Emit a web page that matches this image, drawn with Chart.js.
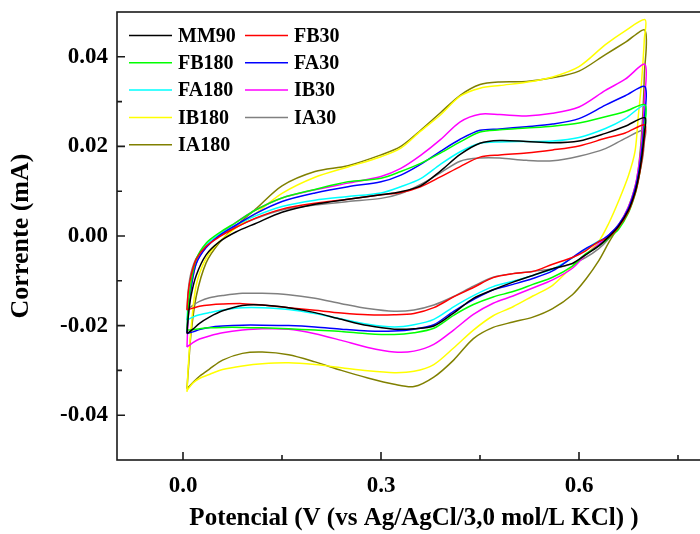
<!doctype html>
<html lang="pt">
<head>
<meta charset="UTF-8" />
<title>Voltametria cíclica</title>
<script src="https://cdn.jsdelivr.net/npm/chart.js"></script>
<style>
  html, body { margin: 0; padding: 0; background: #fff; overflow: hidden; }
  #wrap { width: 720px; height: 534px; }
</style>
</head>
<body>
<div id="wrap"><canvas id="cv"></canvas></div>
<script>
// potential grid for the forward (anodic) and reverse (cathodic) sweeps
const xUp = [0.006, 0.008, 0.012, 0.02, 0.035, 0.055, 0.08, 0.11, 0.15, 0.2, 0.25, 0.3,
             0.33, 0.36, 0.39, 0.42, 0.45, 0.48, 0.52, 0.56, 0.6, 0.64, 0.67, 0.7]
const xDown = [0.699, 0.697, 0.694, 0.69, 0.685, 0.675, 0.66, 0.645, 0.63, 0.61, 0.59, 0.56,
               0.53, 0.5, 0.47, 0.44, 0.41, 0.38, 0.35, 0.32, 0.28, 0.24, 0.2, 0.16, 0.12,
               0.09, 0.06, 0.04, 0.025, 0.015, 0.006]

const upMM90 = [-0.0218, -0.018, -0.0135, -0.0088, -0.0042, -0.0013, 0.0009, 0.0028, 0.0053, 0.0071, 0.0082, 0.0092,
                0.0099, 0.0112, 0.0145, 0.0182, 0.0207, 0.0213, 0.0211, 0.0208, 0.0212, 0.0229, 0.0245, 0.0264]
const dnMM90 = [0.023, 0.02, 0.0165, 0.013, 0.0098, 0.0058, 0.0022, -0.0002, -0.0022, -0.0042, -0.0061, -0.0073,
                -0.0088, -0.0103, -0.012, -0.0139, -0.0172, -0.0201, -0.0207, -0.0208, -0.02, -0.0186, -0.0171, -0.016, -0.0154,
                -0.0155, -0.0167, -0.0181, -0.0195, -0.0208, -0.0218]

const upFB30 = [-0.0165, -0.0125, -0.009, -0.0052, -0.0023, -0.0002, 0.0019, 0.004, 0.006, 0.0073, 0.0082, 0.0092,
                0.0097, 0.011, 0.0132, 0.0155, 0.0176, 0.0181, 0.0185, 0.0192, 0.0201, 0.0218, 0.023, 0.0248]
const dnFB30 = [0.022, 0.019, 0.0158, 0.0125, 0.0095, 0.0055, 0.002, -0.0003, -0.0012, -0.0033, -0.0048, -0.0063,
                -0.0079, -0.0084, -0.0093, -0.0115, -0.0136, -0.016, -0.0173, -0.0176, -0.0176, -0.0172, -0.0166, -0.016, -0.0154,
                -0.0151, -0.0152, -0.0154, -0.0157, -0.0161, -0.0165]

const upFB180 = [-0.021, -0.016, -0.0108, -0.0052, -0.0016, 0.0007, 0.003, 0.0058, 0.0085, 0.0104, 0.0121, 0.0129,
                 0.0144, 0.0162, 0.0185, 0.021, 0.0232, 0.0237, 0.0241, 0.0245, 0.0252, 0.0266, 0.0278, 0.0293]
const dnFB180 = [0.024, 0.02, 0.016, 0.0125, 0.0093, 0.0052, 0.0015, -0.0005, -0.0022, -0.004, -0.0067, -0.0092,
                 -0.0108, -0.0124, -0.0136, -0.0153, -0.0177, -0.0206, -0.0216, -0.022, -0.0218, -0.0213, -0.021, -0.0207, -0.0205,
                 -0.0204, -0.0204, -0.0205, -0.0207, -0.0209, -0.021]

const upFA30 = [-0.0216, -0.0165, -0.0118, -0.0062, -0.0026, 0.0001, 0.0024, 0.005, 0.0077, 0.0096, 0.011, 0.0121,
                0.0136, 0.016, 0.0189, 0.0216, 0.0236, 0.0239, 0.0244, 0.025, 0.0262, 0.0292, 0.0313, 0.0333]
const dnFA30 = [0.026, 0.022, 0.0178, 0.0138, 0.0105, 0.0062, 0.0025, 0.0002, -0.0013, -0.0028, -0.0048, -0.0078,
                -0.0095, -0.0108, -0.012, -0.0142, -0.0168, -0.0198, -0.0208, -0.0212, -0.0212, -0.0208, -0.0203, -0.02, -0.0199,
                -0.0199, -0.0201, -0.0204, -0.0209, -0.0214, -0.0218]

const upFA180 = [-0.0188, -0.0145, -0.0105, -0.0055, -0.002, 0.0003, 0.0024, 0.0045, 0.0066, 0.008, 0.0088, 0.0096,
                 0.011, 0.0128, 0.016, 0.0188, 0.0207, 0.021, 0.0211, 0.0212, 0.022, 0.024, 0.0262, 0.0292]
const dnFA180 = [0.024, 0.021, 0.017, 0.0135, 0.01, 0.0058, 0.0022, -0.0002, -0.0011, -0.003, -0.0049, -0.0074,
                 -0.0088, -0.0101, -0.0113, -0.0133, -0.0158, -0.0186, -0.0198, -0.0203, -0.0197, -0.0185, -0.0173, -0.0164, -0.016,
                 -0.016, -0.0165, -0.0171, -0.0176, -0.0181, -0.0188]

const upIB30 = [-0.0248, -0.018, -0.012, -0.006, -0.0025, 0.0002, 0.003, 0.0058, 0.0085, 0.0103, 0.0118, 0.0133,
                0.0151, 0.018, 0.0215, 0.0255, 0.0272, 0.0271, 0.0268, 0.0274, 0.0288, 0.0325, 0.035, 0.0383]
const dnIB30 = [0.03, 0.025, 0.0195, 0.015, 0.011, 0.0065, 0.0025, 0.0002, -0.0018, -0.0042, -0.0072, -0.0098,
                -0.0116, -0.0134, -0.015, -0.0175, -0.021, -0.0242, -0.0257, -0.0259, -0.0249, -0.0233, -0.0218, -0.0208, -0.0207,
                -0.021, -0.0216, -0.0223, -0.023, -0.0238, -0.0248]

const upIB180 = [-0.0348, -0.029, -0.021, -0.011, -0.005, -0.0013, 0.0018, 0.005, 0.0095, 0.0131, 0.0154, 0.0177,
                 0.0196, 0.0234, 0.027, 0.0312, 0.033, 0.0336, 0.0343, 0.0355, 0.0378, 0.0427, 0.0458, 0.0483]
const dnIB180 = [0.044, 0.039, 0.033, 0.027, 0.019, 0.0135, 0.0078, 0.0028, -0.0012, -0.0042, -0.0068, -0.011,
                 -0.0134, -0.0158, -0.0178, -0.021, -0.025, -0.0287, -0.0302, -0.0305, -0.0301, -0.0294, -0.0287, -0.0283, -0.0285,
                 -0.029, -0.0298, -0.0309, -0.0318, -0.0328, -0.0345]

const upIA30 = [-0.0166, -0.012, -0.0083, -0.005, -0.0022, 0.0, 0.002, 0.0039, 0.0058, 0.0069, 0.0077, 0.0084,
                0.0095, 0.0115, 0.0141, 0.0167, 0.0174, 0.0174, 0.0169, 0.0168, 0.0178, 0.0195, 0.0218, 0.0237]
const dnIA30 = [0.021, 0.018, 0.0155, 0.0128, 0.0098, 0.0058, 0.0025, -0.0006, -0.0028, -0.0048, -0.0062, -0.0073,
                -0.0079, -0.0084, -0.0092, -0.0112, -0.0135, -0.0154, -0.0165, -0.0168, -0.0162, -0.0151, -0.0139, -0.0131, -0.0128,
                -0.0128, -0.0133, -0.0138, -0.0146, -0.0155, -0.0166]

const upIA180 = [-0.0341, -0.03, -0.022, -0.0135, -0.006, -0.0015, 0.0022, 0.006, 0.0112, 0.0144, 0.0157, 0.0181,
                 0.02, 0.0236, 0.0275, 0.0314, 0.0338, 0.0344, 0.0345, 0.0353, 0.0368, 0.0405, 0.0432, 0.0459]
const dnIA180 = [0.036, 0.028, 0.021, 0.015, 0.011, 0.0065, 0.0022, -0.0015, -0.0055, -0.0097, -0.0131, -0.0162,
                 -0.0181, -0.0192, -0.0204, -0.0229, -0.0277, -0.0315, -0.0336, -0.0331, -0.0317, -0.03, -0.0281, -0.0265, -0.0259,
                 -0.0262, -0.0277, -0.0297, -0.0313, -0.0327, -0.0341]

const seriesNames = ['MM90', 'FB30', 'FB180', 'FA30', 'FA180', 'IB30', 'IB180', 'IA30', 'IA180']
const seriesColors = ['#000000', '#ff0000', '#00ff00', '#0000ff', '#00ffff', '#ff00ff', '#ffff00', '#808080', '#808000']
const seriesUp = [upMM90, upFB30, upFB180, upFA30, upFA180, upIB30, upIB180, upIA30, upIA180]
const seriesDown = [dnMM90, dnFB30, dnFB180, dnFA30, dnFA180, dnIB30, dnIB180, dnIA30, dnIA180]

const xTickValues = [0, 0.15, 0.3, 0.45, 0.6, 0.75]
const xTickLabels = ['0.0', '', '0.3', '', '0.6', '']
const yTickValues = [-0.04, -0.03, -0.02, -0.01, 0, 0.01, 0.02, 0.03, 0.04]
const yTickLabels = ['-0.04', '', '-0.02', '', '0.00', '', '0.02', '', '0.04']

const serif = "'Liberation Serif', 'Times New Roman', serif"

function loop(up, down) {
    const pts = xUp.map((x, i) => ({ x: x, y: up[i] }))
    return pts.concat(xDown.map((x, i) => ({ x: x, y: down[i] })))
}

const datasets = seriesNames.map((name, i) => ({
    label: name,
    data: loop(seriesUp[i], seriesDown[i]),
    borderColor: seriesColors[i],
    backgroundColor: seriesColors[i],
    borderWidth: 1.5,
    pointRadius: 0,
    showLine: true,
    tension: 0.3,
    fill: false,
}))

// box around the plot and inward tick marks (major longer than minor)
const frameTicks = {
    id: 'frameTicks',
    afterDraw(chart) {
        const { ctx, chartArea: a, scales } = chart
        ctx.save()
        ctx.strokeStyle = '#1a1a1a'
        ctx.lineWidth = 1.6
        ctx.strokeRect(a.left, a.top, a.right - a.left, a.bottom - a.top)
        ctx.beginPath()
        scales.x.ticks.forEach(t => {
            const px = scales.x.getPixelForValue(t.value)
            const len = t.label ? 8 : 5
            ctx.moveTo(px, a.bottom)
            ctx.lineTo(px, a.bottom - len)
        })
        scales.y.ticks.forEach(t => {
            const py = scales.y.getPixelForValue(t.value)
            const len = t.label ? 8 : 5
            ctx.moveTo(a.left, py)
            ctx.lineTo(a.left + len, py)
        })
        ctx.stroke()
        ctx.restore()
    },
}

// two-column legend inside the plot, upper left
const boxLegend = {
    id: 'boxLegend',
    afterDraw(chart) {
        const { ctx, chartArea: a } = chart
        ctx.save()
        ctx.font = 'bold 20px ' + serif
        ctx.textBaseline = 'middle'
        ctx.fillStyle = '#000'
        chart.data.datasets.forEach((ds, i) => {
            const col = i % 2
            const row = Math.floor(i / 2)
            const x0 = a.left + (col === 0 ? 12 : 128)
            const yy = a.top + 23.5 + row * 27.3
            ctx.strokeStyle = ds.borderColor
            ctx.lineWidth = 1.5
            ctx.beginPath()
            ctx.moveTo(x0, yy)
            ctx.lineTo(x0 + 43, yy)
            ctx.stroke()
            ctx.fillText(ds.label, x0 + 49, yy + 1)
        })
        ctx.restore()
    },
}

new Chart(document.getElementById('cv'), {
    type: 'scatter',
    data: { datasets: datasets },
    options: {
        responsive: true,
        maintainAspectRatio: false,
        animation: false,
        devicePixelRatio: 1,
        layout: { padding: { top: 12, right: 9, left: 0, bottom: 0 } },
        plugins: { legend: { display: false }, tooltip: { enabled: false } },
        scales: {
            x: {
                type: 'linear',
                min: -0.1,
                max: 0.8,
                afterBuildTicks: s => { s.ticks = xTickValues.map(v => ({ value: v })) },
                afterFit: s => { s.height = 74; s.paddingLeft = 0; s.paddingRight = 0 },
                grid: { display: false, drawTicks: false },
                border: { display: false },
                ticks: {
                    autoSkip: false,
                    maxRotation: 0,
                    padding: 12,
                    color: '#000',
                    font: { family: serif, size: 23, weight: 'bold' },
                    callback: (v, i) => xTickLabels[i],
                },
                title: {
                    display: true,
                    text: 'Potencial (V (vs Ag/AgCl/3,0 mol/L KCl) )',
                    color: '#000',
                    font: { family: serif, size: 25, weight: 'bold' },
                    padding: { top: 0, bottom: 0 },
                },
            },
            y: {
                type: 'linear',
                min: -0.05,
                max: 0.05,
                afterBuildTicks: s => { s.ticks = yTickValues.map(v => ({ value: v })) },
                afterFit: s => { s.width = 117; s.paddingTop = 0; s.paddingBottom = 0 },
                grid: { display: false, drawTicks: false },
                border: { display: false },
                ticks: {
                    autoSkip: false,
                    padding: 9,
                    color: '#000',
                    font: { family: serif, size: 23, weight: 'bold' },
                    callback: (v, i) => yTickLabels[i],
                },
                title: {
                    display: true,
                    text: 'Corrente (mA)',
                    color: '#000',
                    font: { family: serif, size: 26, weight: 'bold' },
                    padding: { top: 6, bottom: 0 },
                },
            },
        },
    },
    plugins: [frameTicks, boxLegend],
})
</script>
</body>
</html>
